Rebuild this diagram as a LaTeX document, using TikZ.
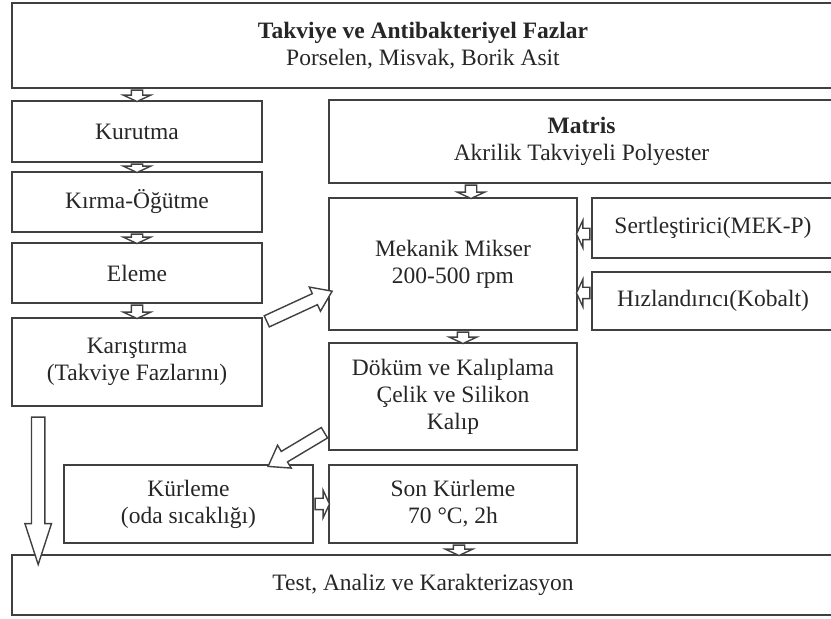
\documentclass[tikz,border=0pt]{standalone}
\usepackage{fontspec}
\setmainfont{Liberation Serif}
\usetikzlibrary{positioning,calc,shapes.arrows}
\tikzstyle{box} = [draw=black!75, line width=0.8pt, rectangle, align=center, text=black!85, inner sep=1pt, font=\fontsize{11.75}{13.5}\selectfont]
\tikzstyle{harrow} = [single arrow, draw=black!75, line width=0.7pt, fill=white, inner xsep=0pt, inner ysep=2.5pt, single arrow head extend=4pt, single arrow tip angle=130]
\tikzstyle{darrow} = [harrow, inner ysep=2.7pt, single arrow head extend=3.6pt, single arrow tip angle=70]
\tikzstyle{barrow} = [harrow, inner ysep=3pt, single arrow head extend=3.3pt, single arrow tip angle=36]
\newcommand{\hollow}[3][harrow]{%
  \path let \p1=(#2), \p2=(#3), \n1={atan2(\y2-\y1,\x2-\x1)}, \n2={veclen(\x2-\x1,\y2-\y1)} in
    node[#1, rotate=\n1, minimum height=\n2] at ($(\p1)!0.5!(\p2)$) {};}

\begin{document}
\begin{tikzpicture}[x=0.5pt, y=-0.5pt]
\useasboundingbox (0,0) rectangle (831,619);

\node [box, minimum width=411pt, minimum height=42.5pt] (fazlar) at (423,45.5) {\textbf{Takviye ve Antibakteriyel Fazlar}\\Porselen, Misvak, Borik Asit};
\node [box, minimum width=125pt, minimum height=30.5pt, below of=fazlar, node distance=43pt, xshift=-143pt] (kurutma) {Kurutma};
\node [box, minimum width=125pt, minimum height=30pt, below of=kurutma, node distance=35.25pt] (kirma) {Kırma-Öğütme};
\node [box, minimum width=125pt, minimum height=30pt, below of=kirma, node distance=35.5pt] (eleme) {Eleme};
\node [box, minimum width=125pt, minimum height=44pt, below of=eleme, node distance=44.5pt] (karistirma) {Karıştırma\\(Takviye Fazlarını)};

\node [box, minimum width=252.5pt, minimum height=41.5pt] (matris) at (581.5,141.5) {\textbf{Matris}\\Akrilik Takviyeli Polyester};
\node [box, minimum width=124pt, minimum height=66pt, below of=matris, node distance=61.25pt, xshift=-64.25pt] (mikser) {Mekanik Mikser\\200-500 rpm};
\node [box, minimum width=121pt, minimum height=30pt, right of=mikser, node distance=130pt, yshift=18pt] (sert) {Sertleştirici(MEK-P)};
\node [box, minimum width=121pt, minimum height=29pt, below of=sert, node distance=36.5pt] (hiz) {Hızlandırıcı(Kobalt)};
\node [box, minimum width=124pt, minimum height=53.5pt, below of=mikser, node distance=66.25pt] (dokum) {Döküm ve Kalıplama\\Çelik ve Silikon\\Kalıp};
\node [box, minimum width=124pt, minimum height=39pt, below of=dokum, node distance=53.75pt] (son) {Son Kürleme\\70 °C, 2h};
\node [box, minimum width=124.5pt, minimum height=39pt, left of=son, node distance=132.25pt] (kurleme) {Kürleme\\(oda sıcaklığı)};

\node [box, minimum width=411pt, minimum height=30pt] (test) at (423,585) {Test, Analiz ve Karakterizasyon};

% hollow arrows
\hollow{kurutma.north |- fazlar.south}{kurutma.north}
\hollow{kurutma.south}{kirma.north}
\hollow{kirma.south}{eleme.north}
\hollow{eleme.south}{karistirma.north}
\hollow{[xshift=9pt]mikser.north |- matris.south}{[xshift=9pt]mikser.north}
\hollow{[xshift=5pt]mikser.south}{[xshift=5pt]dokum.north}
\hollow{[yshift=-3pt]sert.west}{[yshift=-3pt]mikser.east |- sert.west}
\hollow{[yshift=4pt]hiz.west}{[yshift=4pt]mikser.east |- hiz.west}
\hollow{kurleme.east}{son.west}
\hollow{[xshift=3pt]son.south}{[xshift=3pt]son.south |- test.north}
\hollow[darrow]{[yshift=-3pt]karistirma.north east}{[yshift=-14.5pt]mikser.west}
\hollow[darrow]{[yshift=-17pt]dokum.west}{[xshift=-21pt]kurleme.north east}
\hollow[barrow]{[xshift=13.5pt]karistirma.south west}{[xshift=13.5pt]karistirma.south west |- test.north}

\end{tikzpicture}
\end{document}
